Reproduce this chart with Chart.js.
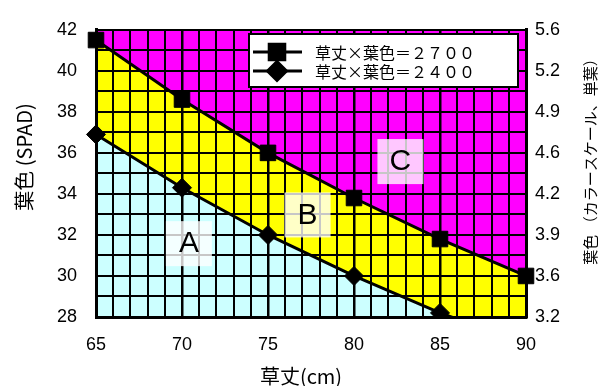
<!DOCTYPE html>
<html>
<head>
<meta charset="utf-8">
<script src="https://cdn.jsdelivr.net/npm/chart.js@4.4.1/dist/chart.umd.min.js"></script>
<style>
  body { margin: 0; background: #fff; }
</style>
</head>
<body>
<canvas id="chart" width="598" height="386"></canvas>
<script>
// values
const heights = [65, 70, 75, 80, 85, 90];
const color2700 = [41.5, 38.6, 36.0, 33.8, 31.8, 30.0];
const color2400 = [36.9, 34.3, 32.0, 30.0, 28.2, 26.7];
const seriesNames = ['草丈×葉色＝２７００', '草丈×葉色＝２４００'];
const spadTicks = [28, 30, 32, 34, 36, 38, 40, 42];
const scaleTicks = ['3.2', '3.6', '3.9', '4.2', '4.6', '4.9', '5.2', '5.6'];
const zoneNames = ['A', 'B', 'C'];
const zoneX = [70.4, 77.3, 82.7];
const zoneY = [31.6, 33.0, 35.6];

const tickFont = { family: '"Liberation Sans", Arial, sans-serif', size: 18 };
const jpFont = '"Noto Sans CJK JP", sans-serif';

// yellow goes under the fills that are already painted
const zoneBackground = {
  id: 'zoneBackground',
  beforeDraw(chart) {
    const { ctx, chartArea: a } = chart;
    ctx.save();
    ctx.globalCompositeOperation = 'destination-over';
    ctx.fillStyle = '#ffff00';
    ctx.fillRect(a.left, a.top, a.width, a.height);
    ctx.restore();
  }
};

const zoneLabels = {
  id: 'zoneLabels',
  beforeDatasetsDraw(chart) {
    const { ctx, scales } = chart;
    ctx.save();
    ctx.font = '30px "Liberation Sans", Arial, sans-serif';
    ctx.textAlign = 'center';
    ctx.textBaseline = 'middle';
    zoneNames.forEach((name, i) => {
      const x = scales.x.getPixelForValue(zoneX[i]);
      const y = scales.y.getPixelForValue(zoneY[i]);
      ctx.fillStyle = 'rgba(255,255,255,0.78)';
      ctx.fillRect(x - 23, y - 22, 46, 45);
      ctx.fillStyle = '#000';
      ctx.fillText(name, x, y + 1);
    });
    ctx.restore();
  }
};

const legendAndTitles = {
  id: 'legendAndTitles',
  afterDraw(chart) {
    const { ctx } = chart;
    ctx.save();
    // legend box
    const lx = 249, ly = 34, lw = 269, lh = 53;
    ctx.fillStyle = '#fff';
    ctx.fillRect(lx, ly, lw, lh);
    ctx.lineWidth = 2;
    ctx.strokeStyle = '#000';
    ctx.strokeRect(lx, ly, lw, lh);
    const styles = [{ pointStyle: 'rect', radius: 11 }, { pointStyle: 'rectRot', radius: 9.5 }];
    ctx.font = '16px ' + jpFont;
    ctx.textBaseline = 'middle';
    seriesNames.forEach((name, i) => {
      const y = ly + 18 + i * 19;
      ctx.beginPath();
      ctx.lineWidth = 3;
      ctx.moveTo(lx + 4, y);
      ctx.lineTo(lx + 53, y);
      ctx.stroke();
      ctx.fillStyle = '#000';
      Chart.helpers.drawPoint(ctx, { pointStyle: styles[i].pointStyle, radius: styles[i].radius, borderWidth: 1 }, lx + 28, y);
      ctx.fill();
      ctx.fillText(name, lx + 66, y + 1);
    });

    // axis titles
    ctx.fillStyle = '#000';
    ctx.textAlign = 'center';
    ctx.textBaseline = 'middle';
    ctx.font = '20px ' + jpFont;
    ctx.fillText('草丈(cm)', 301, 376);

    ctx.save();
    ctx.translate(24, 157);
    ctx.rotate(-Math.PI / 2);
    ctx.font = '20px ' + jpFont;
    ctx.fillText('葉色 (SPAD)', 0, 0);
    ctx.restore();

    ctx.save();
    ctx.translate(590, 158);
    ctx.rotate(-Math.PI / 2);
    ctx.font = '15px ' + jpFont;
    ctx.fillText('葉色 （カラースケール、単葉）', 0, 0);
    ctx.restore();

    ctx.restore();
  }
};

new Chart(document.getElementById('chart'), {
  type: 'line',
  data: {
    datasets: [
      {
        label: seriesNames[0],
        data: heights.map((h, i) => ({ x: h, y: color2700[i] })),
        borderColor: '#000',
        borderWidth: 3,
        backgroundColor: '#ff00ff',
        fill: 'end',
        pointStyle: 'rect',
        pointRadius: 11,
        pointBackgroundColor: '#000',
        pointBorderColor: '#000',
        pointBorderWidth: 1,
        clip: { left: 15, right: 15, top: 15, bottom: 0 }
      },
      {
        label: seriesNames[1],
        data: heights.map((h, i) => ({ x: h, y: color2400[i] })),
        borderColor: '#000',
        borderWidth: 3,
        backgroundColor: '#ccffff',
        fill: 'start',
        pointStyle: 'rectRot',
        pointRadius: (c) => (c.raw && c.raw.y < 28 ? 0 : 9.5),
        pointBackgroundColor: '#000',
        pointBorderColor: '#000',
        pointBorderWidth: 1,
        clip: { left: 15, right: 15, top: 15, bottom: 0 }
      }
    ]
  },
  options: {
    responsive: false,
    animation: false,
    events: [],
    layout: { padding: { top: 22, left: 0, right: 0, bottom: 0 } },
    scales: {
      x: {
        type: 'linear',
        min: 65,
        max: 90,
        afterFit: (s) => { s.height = 69; },
        border: { color: '#000', width: 3 },
        grid: {
          color: '#000',
          lineWidth: (c) => (c.tick && c.tick.value % 5 === 0 ? 2.5 : 2),
          drawTicks: false
        },
        ticks: {
          stepSize: 1,
          autoSkip: false,
          maxRotation: 0,
          padding: 17,
          color: '#000',
          font: tickFont,
          callback: (v) => (v % 5 === 0 ? v : '')
        }
      },
      y: {
        min: 28,
        max: 42,
        afterFit: (s) => { s.width = 96; },
        border: { color: '#000', width: 3 },
        grid: { color: '#000', lineWidth: 2, drawTicks: false },
        ticks: {
          stepSize: 1,
          autoSkip: false,
          padding: 19,
          color: '#000',
          font: tickFont,
          callback: (v) => (spadTicks.includes(v) ? v : '')
        }
      },
      y2: {
        position: 'right',
        min: 28,
        max: 42,
        afterFit: (s) => { s.width = 72; },
        border: { color: '#000', width: 3 },
        grid: { drawOnChartArea: false, drawTicks: false },
        ticks: {
          stepSize: 1,
          autoSkip: false,
          padding: 9,
          color: '#000',
          font: tickFont,
          callback: (v) => {
            const i = spadTicks.indexOf(v);
            return i >= 0 ? scaleTicks[i] : '';
          }
        }
      }
    },
    plugins: {
      legend: { display: false },
      tooltip: { enabled: false },
      filler: { propagate: false, drawTime: 'beforeDraw' }
    }
  },
  plugins: [zoneBackground, zoneLabels, legendAndTitles]
});
</script>
</body>
</html>
